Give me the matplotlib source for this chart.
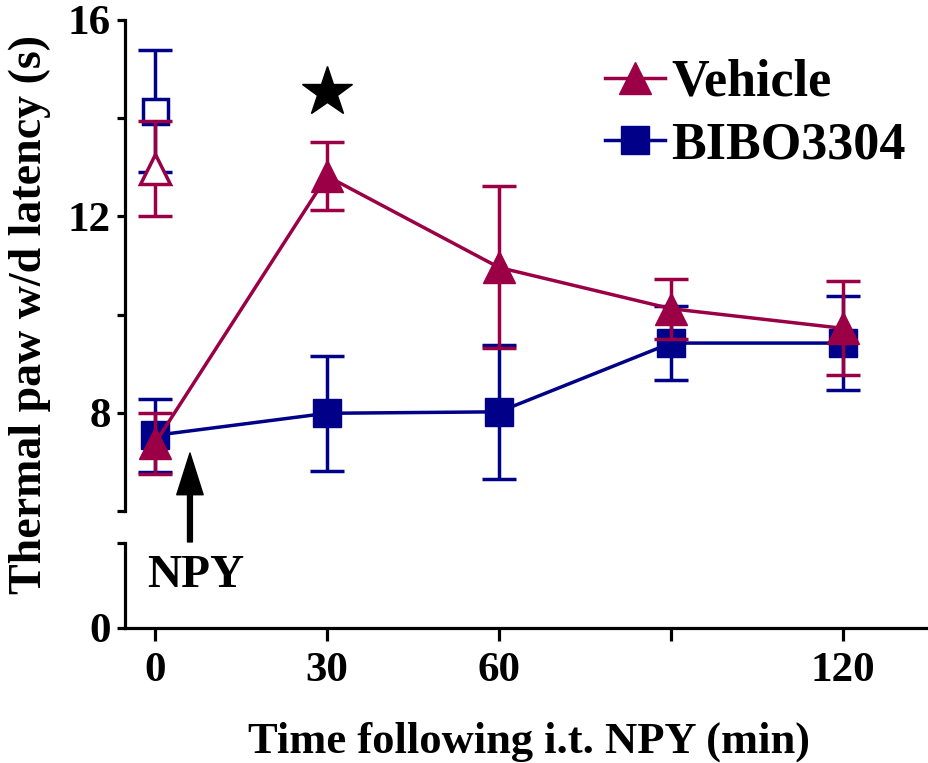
import matplotlib
matplotlib.use("Agg")
import matplotlib.pyplot as plt
from matplotlib.lines import Line2D

plt.rcParams['font.family'] = ['Liberation Serif', 'DejaVu Serif']
plt.rcParams['font.weight'] = 'bold'

# ---- data ----
time = [0, 30, 60, 90, 120]
veh_mean = [7.38, 12.82, 10.96, 10.12, 9.72]
veh_sem = [0.62, 0.69, 1.65, 0.61, 0.96]
bibo_mean = [7.54, 7.99, 8.02, 9.42, 9.42]
bibo_sem = [0.74, 1.17, 1.37, 0.76, 0.96]
veh_base_mean, veh_base_sem = 12.97, 0.97
bibo_base_mean, bibo_base_sem = 14.14, 1.24
star_x, star_y = 30, 14.53
xtick_vals = [0, 30, 60, 90, 120]
xtick_labels = ['0', '30', '60', '', '120']
ytick_vals = [6, 8, 10, 12, 14, 16]
ytick_labels = ['', '8', '', '12', '', '16']

RED = '#9b0047'
BLUE = '#000088'
W, H = 929, 763
fig = plt.figure(figsize=(W / 100, H / 100), dpi=100)

def fx(px):
    return px / W

def fy(py):
    return 1 - py / H

left, right = 125, 927
ax = fig.add_axes([fx(left), fy(511), fx(right) - fx(left), fy(20) - fy(511)])
axl = fig.add_axes([fx(left), fy(628), fx(right) - fx(left), fy(543) - fy(628)])

xlim = (-5.23, 134.65)
lw = 2.5
eb_kw = dict(elinewidth=lw, capsize=12, capthick=lw, lw=lw)

# BIBO (drawn first, underneath)
ax.errorbar(time, bibo_mean, yerr=bibo_sem, color=BLUE, marker='s', ms=20,
            mec=BLUE, mfc=BLUE, zorder=3, **eb_kw)
ax.errorbar([0], [bibo_base_mean], yerr=[bibo_base_sem], color=BLUE, marker='s',
            ms=18, mfc='white', mec=BLUE, mew=2.5, zorder=3, **eb_kw)
# Vehicle
ax.errorbar(time, veh_mean, yerr=veh_sem, color=RED, marker='^', ms=23,
            mec=RED, mfc=RED, zorder=4, **eb_kw)
ax.errorbar([0], [veh_base_mean], yerr=[veh_base_sem], color=RED, marker='^',
            ms=21, mfc='white', mec=RED, mew=2.5, zorder=4, **eb_kw)

# significance star
ax.plot([star_x], [star_y], marker='*', ms=38, color='black', ls='none', zorder=5)

# NPY arrow
ax.annotate('', xy=(6.1, 7.18), xytext=(6.1, 5.37), annotation_clip=False,
            arrowprops=dict(facecolor='black', edgecolor='black', width=3.5,
                            headwidth=19, headlength=30, shrink=0))
fig.text(fx(196), fy(576), 'NPY', ha='center', va='center', fontsize=34,
         fontweight='bold')

for a in (ax, axl):
    a.set_xlim(*xlim)
    a.spines['top'].set_visible(False)
    a.spines['right'].set_visible(False)
    a.spines['left'].set_linewidth(2.3)
    a.spines['bottom'].set_linewidth(2.3)
    a.patch.set_alpha(0)

ax.set_ylim(6, 16)
ax.spines['bottom'].set_visible(False)
ax.set_xticks([])
ax.set_yticks(ytick_vals)
ax.set_yticklabels(ytick_labels)
ax.tick_params(axis='y', length=6, width=2.3, pad=4, labelsize=31)

axl.set_ylim(0, 1.73)
axl.set_yticks([0, 1.73])
axl.set_yticklabels(['0', ''])
axl.tick_params(axis='y', length=6, width=2.3, pad=4, labelsize=31)
axl.set_xticks(xtick_vals)
axl.set_xticklabels(xtick_labels)
axl.tick_params(axis='x', length=9, width=2.3, pad=8, labelsize=31)

for lab in ax.get_yticklabels() + axl.get_yticklabels() + axl.get_xticklabels():
    lab.set_fontweight('bold')

# legend
handles = [Line2D([], [], color=RED, lw=lw, marker='^', ms=23),
           Line2D([], [], color=BLUE, lw=lw, marker='s', ms=20)]
ax.legend(handles, ['Vehicle', 'BIBO3304'], loc='upper right',
          bbox_to_anchor=(fx(906), fy(59)), bbox_transform=fig.transFigure,
          frameon=False, prop=dict(size=37.5, weight='bold'),
          handlelength=1.15, handletextpad=0.12, labelspacing=0.28,
          borderaxespad=0, borderpad=0)

fig.text(fx(30), fy(314), 'Thermal paw w/d latency (s)', rotation=90,
         ha='center', va='center', fontsize=33, fontweight='bold')
fig.text(fx(529), fy(742), 'Time following i.t. NPY (min)', ha='center',
         va='center', fontsize=32, fontweight='bold')

fig.savefig('out.png', dpi=100)
